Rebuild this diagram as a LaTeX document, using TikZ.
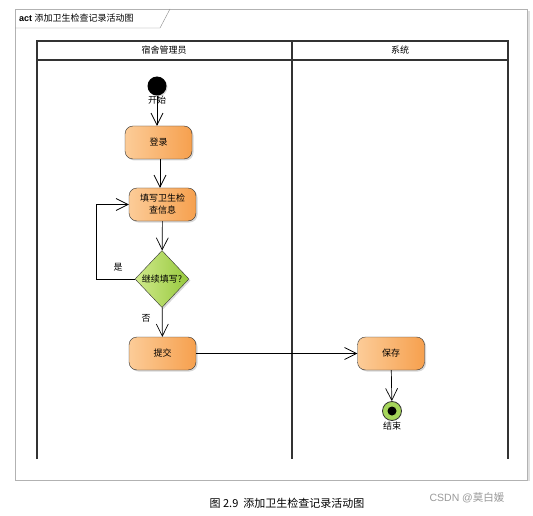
\documentclass[tikz,border=0pt]{standalone}
\usepackage{fontspec}
\setmainfont{Liberation Sans}
\newfontfamily\cjk{Noto Sans CJK SC}
\usetikzlibrary{arrows.meta,shapes.geometric,shadows}
\definecolor{actl}{RGB}{252,204,152}
\definecolor{actr}{RGB}{246,160,78}
\definecolor{decl}{RGB}{208,234,140}
\definecolor{decr}{RGB}{150,200,60}
\definecolor{endg}{RGB}{165,213,90}
\tikzset{
  act/.style={draw=black!80, rounded corners=8pt, minimum width=67pt, minimum height=33pt,
    left color=actl, right color=actr, align=center, inner sep=1pt,
    font=\cjk\fontsize{9}{12}\selectfont,
    drop shadow={shadow xshift=1.5pt, shadow yshift=-1.5pt, fill=black!30}},
  dec/.style={diamond, draw=black!80, minimum width=54pt, minimum height=57pt, inner sep=0pt,
    left color=decl, right color=decr, font=\cjk\fontsize{9}{11}\selectfont,
    drop shadow={shadow xshift=1.5pt, shadow yshift=-1.5pt, fill=black!30}},
  flow/.style={draw=black, line width=0.7pt, -{Straight Barb[length=12pt,width=12pt]}},
  lane/.style={draw=black!80, line width=1.1pt},
  lbl/.style={font=\cjk\fontsize{9}{11}\selectfont, inner sep=0pt}
}
\begin{document}
\begin{tikzpicture}[x=1pt,y=-1pt]
  \useasboundingbox (0,0) rectangle (533,516);
  \draw[black!12, line width=2pt] (529,11) -- (529,481);
  \draw[black!30, fill=white] (15,9) rectangle (527,480);
  \draw[black!45] (15,28) -- (160,28) -- (170,9);
  \node[anchor=west, inner sep=0pt] (title) at (19,18.5)
    {\fontsize{9}{11}\selectfont\bfseries act {\mdseries\cjk 添加卫生检查记录活动图}};

  \draw[lane] (37,459) -- (37,41) -- (508,41) -- (508,459);
  \draw[lane] (37,60) -- (508,60);
  \draw[lane] (292,41) -- (292,459);
  \node[lbl] (manager) at (164,50.5) {宿舍管理员};
  \node[lbl] (system) at (400,50.5) {系统};

  \node[circle, fill=black, minimum size=19pt, inner sep=0pt,
    drop shadow={shadow xshift=1pt, shadow yshift=-1pt, fill=black!30}] (start) at (157,86) {};
  \node[act] (login) at (158.5,142.5) {登录};
  \node[act] (fill) at (162.5,204.5) {填写卫生检\\查信息};
  \node[dec] (check) at (162,279) {继续填写?};
  \node[act] (submit) at (162.5,353.5) {提交};
  \node[act] (save) at (391,353.5) {保存};
  \node[circle, draw=black!80, fill=endg, minimum size=19pt, inner sep=0pt, line width=0.8pt] (end) at (392,411) {};
  \node[circle, fill=black, minimum size=9pt, inner sep=0pt] (enddot) at (end) {};

  \draw[flow] (start) -- (start |- login.north);
  \node[lbl] (startlbl) at (157,100.5) {开始};
  \draw[flow] ([xshift=1.5pt]login.south) -- ([xshift=1.5pt]login.south |- fill.north);
  \draw[flow] (fill) -- (check);
  \draw[flow] (check.west) -- ++(-38,0) |- (fill.west);
  \draw[flow] (check) -- (submit);
  \draw[flow] (submit) -- (save);
  \draw[flow] (save) -- (end);
  \node[lbl] (yes) at (118,267.5) {是};
  \node[lbl] (no) at (146,318) {否};
  \node[lbl] (endlbl) at (392,426.5) {结束};

  \node[font=\cjk\fontsize{11}{13}\selectfont] (caption) at (287,503) {图 2.9\ \ 添加卫生检查记录活动图};
  \node[font=\fontsize{10.5}{12}\selectfont, text=black!40] (mark) at (467,498) {CSDN @{\cjk 莫白媛}};
\end{tikzpicture}
\end{document}
